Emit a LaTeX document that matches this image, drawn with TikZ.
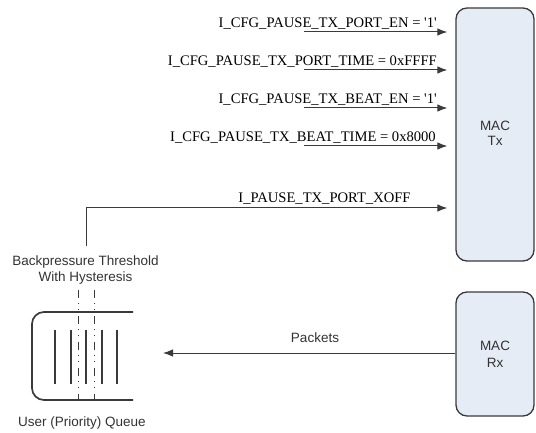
\documentclass[tikz,border=0pt]{standalone}
\usepackage{fontspec}
\setmainfont{Liberation Serif}
\setsansfont{Liberation Sans}
\usetikzlibrary{arrows.meta}
\definecolor{boxfill}{HTML}{E6ECF6}
\definecolor{linegray}{HTML}{3A3A3A}
\definecolor{textgray}{HTML}{333333}
\begin{document}
\begin{tikzpicture}[x=1pt,y=-1pt,
  macbox/.style={draw=linegray,line width=1.3pt,fill=boxfill,rounded corners=11pt,
    inner sep=0pt,font=\sffamily\fontsize{13.5}{17}\selectfont,text=textgray,align=center},
  sig/.style={font=\rmfamily\fontsize{14.6}{17}\selectfont,inner sep=0pt},
  lab/.style={font=\sffamily\fontsize{13.5}{16}\selectfont,text=textgray,inner sep=0pt,align=center},
  wire/.style={draw=linegray,line width=1pt,-{Latex[length=10pt,width=7.5pt]},shorten >=8pt},
  qline/.style={draw=linegray,line width=1.7pt},
  thresh/.style={draw=linegray,line width=0.9pt,dash pattern=on 8pt off 5pt on 1pt off 5pt on 1pt off 6pt}]
\useasboundingbox (0,0) rectangle (536,433);

% MAC blocks (the Tx caption sits a little above the middle)
\node[macbox,minimum width=78pt,minimum height=253pt] (tx) at (495,134.5)
  {\raisebox{7pt}{\begin{tabular}{@{}c@{}}MAC\\[-2pt]Tx\end{tabular}}};
\node[macbox,minimum width=78pt,minimum height=124pt] (rx) at (495,354) {MAC\\Rx};

% configuration inputs to MAC Tx
\coordinate (c1) at (304,32);
\coordinate (c2) at (304,70);
\coordinate (c3) at (304,108);
\coordinate (c4) at (304,146);
\draw[wire] (c1) -- (c1 -| tx.west);
\draw[wire] (c2) -- (c2 -| tx.west);
\draw[wire] (c3) -- (c3 -| tx.west);
\draw[wire] (c4) -- (c4 -| tx.west);
\node[sig,anchor=base east] (l1) at (437,27.5) {I\_CFG\_PAUSE\_TX\_PORT\_EN = \textquotesingle1\textquotesingle};
\node[sig,anchor=base east] (l2) at (437,65.5) {I\_CFG\_PAUSE\_TX\_PORT\_TIME = 0xFFFF};
\node[sig,anchor=base east] (l3) at (437,103.5) {I\_CFG\_PAUSE\_TX\_BEAT\_EN = \textquotesingle1\textquotesingle};
\node[sig,anchor=base east] (l4) at (436,141.5) {I\_CFG\_PAUSE\_TX\_BEAT\_TIME = 0x8000};

% pause request from the queue threshold
\coordinate (xs) at (86,246);
\coordinate (xc) at (86,208);
\draw[wire] (xs) -- (xc) -- (xc -| tx.west);
\node[sig,anchor=base] (lx) at (324.5,202.5) {I\_PAUSE\_TX\_PORT\_XOFF};

% packets from MAC Rx into the queue
\coordinate (pq) at (163,353);
\draw[wire,shorten >=0pt] (pq -| rx.west) -- (pq);
\node[lab] (lp) at (315,338) {Packets};

% queue outline, open on the right
\draw[qline,rounded corners=12pt] (133,312) -- (32,312) -- (32,400) -- (133,400);
\foreach \x in {55,71,86,102,117}
  \draw[qline] (\x,330) -- (\x,384);
% hysteresis thresholds
\draw[thresh] (78.5,290) -- (78.5,400);
\draw[thresh] (94,290) -- (94,400);

\node[lab] (lt) at (85.5,270) {Backpressure Threshold\\With Hysteresis};
\node[lab] (lq) at (82,423) {User (Priority) Queue};
\end{tikzpicture}
\end{document}
